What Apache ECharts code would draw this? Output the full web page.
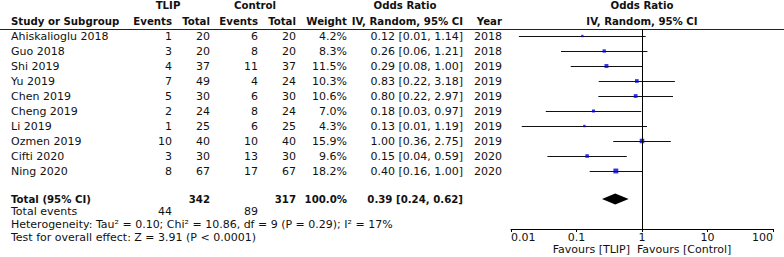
<!DOCTYPE html>
<html>
<head>
<meta charset="utf-8">
<script src="https://cdn.jsdelivr.net/npm/echarts@6/dist/echarts.min.js"></script>
<style>
  html, body { margin: 0; padding: 0; background: #fff; }
  #forest { width: 784px; height: 257px; }
</style>
</head>
<body>
<div id="forest"></div>
<script>
// study data
var studies = ['Ahiskalioglu 2018', 'Guo 2018', 'Shi 2019', 'Yu 2019', 'Chen 2019',
  'Cheng 2019', 'Li 2019', 'Ozmen 2019', 'Cifti 2020', 'Ning 2020'];
var tlipEvents = [1, 3, 4, 7, 5, 2, 1, 10, 3, 8];
var tlipTotal = [20, 20, 37, 49, 30, 24, 25, 40, 30, 67];
var ctrlEvents = [6, 8, 11, 4, 6, 8, 6, 10, 13, 17];
var ctrlTotal = [20, 20, 37, 24, 30, 24, 25, 40, 30, 67];
var weights = [4.2, 8.3, 11.5, 10.3, 10.6, 7.0, 4.3, 15.9, 9.6, 18.2];
var oddsRatio = [0.1228, 0.2647, 0.2865, 0.8333, 0.80, 0.1818, 0.1319, 1.00, 0.1453, 0.3988];
var ciLow = [0.0132, 0.0580, 0.0817, 0.2184, 0.2153, 0.0340, 0.0146, 0.3634, 0.0360, 0.1588];
var ciHigh = [1.139, 1.209, 1.0045, 3.179, 2.972, 0.9737, 1.192, 2.752, 0.586, 1.0017];
var years = [2018, 2018, 2019, 2019, 2019, 2019, 2019, 2019, 2020, 2020];

var pooled = [0.39, 0.245, 0.625]; // OR, low, high
var pooledText = '0.39 [0.24, 0.62]';
var totals = ['342', '317', '100.0%'];
var totalEvents = ['44', '89'];
var hetText = 'Heterogeneity: Tau\u00b2 = 0.10; Chi\u00b2 = 10.86, df = 9 (P = 0.29); I\u00b2 = 17%';
var testText = 'Test for overall effect: Z = 3.91 (P < 0.0001)';
var tickLabels = ['0.01', '0.1', '1', '10', '100'];
var favours = ['Favours [TLIP]', 'Favours [Control]'];

// layout: rows in "line" units, 0 = first study
var ROW = { head1: -2.03, head2: -1, total: 10.87, events: 11.73, het: 12.55, test: 13.4, fav: 14.2 };
var Y_MIN = -7 / 15, Y_MAX = 193 / 15;
var COL = {
  name: [11, 'left'], tEv: [172, 'right'], tTot: [210, 'right'], cEv: [258, 'right'],
  cTot: [296, 'right'], weight: [347, 'right'], ci: [463, 'right'], year: [502, 'right']
};

var cells = [];
function cell(col, row, text, bold, align) {
  var c = Array.isArray(col) ? col : [col, align || 'center'];
  cells.push({ x: c[0], row: row, text: String(text), bold: !!bold, align: align || c[1] });
}
function fmt(v) { return v.toFixed(2); }

// headers
cell(168, ROW.head1, 'TLIP', true, 'center');
cell(255, ROW.head1, 'Control', true, 'center');
cell(405, ROW.head1, 'Odds Ratio', true, 'center');
cell(642, ROW.head1, 'Odds Ratio', true, 'center');
cell(COL.name, ROW.head2, 'Study or Subgroup', true);
cell(COL.tEv, ROW.head2, 'Events', true);
cell(COL.tTot, ROW.head2, 'Total', true);
cell(COL.cEv, ROW.head2, 'Events', true);
cell(COL.cTot, ROW.head2, 'Total', true);
cell(COL.weight, ROW.head2, 'Weight', true);
cell(COL.ci, ROW.head2, 'IV, Random, 95% CI', true);
cell(COL.year, ROW.head2, 'Year', true);
cell(642, ROW.head2, 'IV, Random, 95% CI', true, 'center');

studies.forEach(function (s, i) {
  cell(COL.name, i, s);
  cell(COL.tEv, i, tlipEvents[i]);
  cell(COL.tTot, i, tlipTotal[i]);
  cell(COL.cEv, i, ctrlEvents[i]);
  cell(COL.cTot, i, ctrlTotal[i]);
  cell(COL.weight, i, weights[i].toFixed(1) + '%');
  cell(COL.ci, i, fmt(oddsRatio[i]) + ' [' + fmt(ciLow[i]) + ', ' + fmt(ciHigh[i]) + ']');
  cell(COL.year, i, years[i]);
});

cell(COL.name, ROW.total, 'Total (95% CI)', true);
cell(COL.tTot, ROW.total, totals[0], true);
cell(COL.cTot, ROW.total, totals[1], true);
cell(COL.weight, ROW.total, totals[2], true);
cell(COL.ci, ROW.total, pooledText, true);
cell(COL.name, ROW.events, 'Total events');
cell(COL.tEv, ROW.events, totalEvents[0]);
cell(COL.cEv, ROW.events, totalEvents[1]);
cell(COL.name, ROW.het, hetText);
cell(COL.name, ROW.test, testText);
cell(630, ROW.fav, favours[0], false, 'right');
cell(637, ROW.fav, favours[1], false, 'left');

var FONT = '"DejaVu Sans", sans-serif';
var INK = '#111';

var chart = echarts.init(document.getElementById('forest'), null, { renderer: 'svg' });

chart.setOption({
  animation: false,
  grid: [
    { left: 511, right: 11, top: 29, bottom: 28 },
    { left: 0, right: 0, top: 29, bottom: 28 }
  ],
  xAxis: [
    {
      type: 'log', logBase: 10, min: 0.01, max: 100, gridIndex: 0,
      axisLine: { onZero: false, lineStyle: { color: '#000', width: 1 } },
      axisTick: { show: true, length: 3, lineStyle: { color: '#000' } },
      minorTick: { show: false },
      splitLine: { show: false },
      axisLabel: {
        margin: 3, color: INK, fontSize: 11, fontFamily: FONT,
        alignMinLabel: 'left', alignMaxLabel: 'right',
        formatter: function (v, idx) { return tickLabels[idx]; }
      }
    },
    { type: 'value', min: 0, max: 784, gridIndex: 1, show: false }
  ],
  yAxis: [
    { type: 'value', inverse: true, min: Y_MIN, max: Y_MAX, gridIndex: 0, show: false },
    { type: 'value', inverse: true, min: Y_MIN, max: Y_MAX, gridIndex: 1, show: false }
  ],
  graphic: [
    { type: 'line', shape: { x1: 0, y1: 29.5, x2: 784, y2: 29.5 }, style: { stroke: '#222', lineWidth: 1 } }
  ],
  series: [
    {
      // confidence interval whiskers
      type: 'custom', xAxisIndex: 0, yAxisIndex: 0,
      data: studies.map(function (s, i) { return [ciLow[i], ciHigh[i], i]; }),
      renderItem: function (params, api) {
        var a = api.coord([api.value(0), api.value(2)]);
        var b = api.coord([api.value(1), api.value(2)]);
        return {
          type: 'line',
          shape: { x1: a[0], y1: Math.round(a[1]) + 0.5, x2: b[0], y2: Math.round(b[1]) + 0.5 },
          style: { stroke: '#111', lineWidth: 1.2 }
        };
      },
      z: 2
    },
    {
      // study weight squares
      type: 'scatter', xAxisIndex: 0, yAxisIndex: 0,
      symbol: 'rect',
      symbolSize: function (v) { return 1.15 * Math.sqrt(v[2]); },
      itemStyle: { color: '#0000dd' },
      data: studies.map(function (s, i) { return [oddsRatio[i], i, weights[i]]; }),
      markLine: {
        silent: true, symbol: 'none', label: { show: false },
        lineStyle: { color: '#000', type: 'solid', width: 1 },
        data: [{ xAxis: 1 }]
      },
      z: 3
    },
    {
      // pooled diamond
      type: 'custom', xAxisIndex: 0, yAxisIndex: 0,
      data: [[pooled[0], pooled[1], pooled[2], ROW.total]],
      renderItem: function (params, api) {
        var c = api.coord([api.value(0), api.value(3)]);
        var l = api.coord([api.value(1), api.value(3)]);
        var r = api.coord([api.value(2), api.value(3)]);
        var h = 5.5;
        return {
          type: 'polygon',
          shape: { points: [[l[0], c[1]], [c[0], c[1] - h], [r[0], c[1]], [c[0], c[1] + h]] },
          style: { fill: '#000' }
        };
      },
      z: 3
    },
    {
      // table text
      type: 'custom', xAxisIndex: 1, yAxisIndex: 1,
      data: cells.map(function (c, i) { return [c.x, c.row, i]; }),
      renderItem: function (params, api) {
        var c = cells[api.value(2)];
        var p = api.coord([api.value(0), api.value(1)]);
        return {
          type: 'text', x: p[0], y: p[1],
          style: {
            text: c.text, fill: INK,
            font: (c.bold ? 'bold 10.2px ' : '11px ') + FONT,
            align: c.align, verticalAlign: 'middle'
          }
        };
      },
      z: 4
    }
  ]
});
</script>
</body>
</html>
